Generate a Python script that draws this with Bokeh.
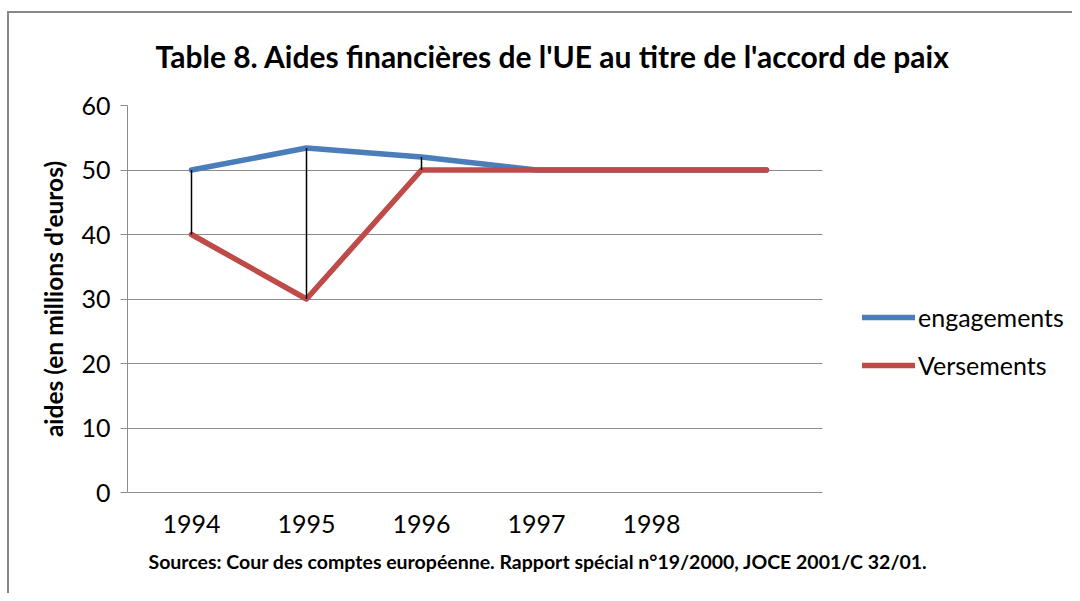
from bokeh.plotting import figure
from bokeh.models import Range1d, Legend, LegendItem, FixedTicker, Title
from bokeh.embed import file_html
from bokeh.resources import INLINE

years = ["1994", "1995", "1996", "1997", "1998", ""]
engagements = [50, 53.4, 52, 50, 50, 50]
versements = [40, 30, 50, 50, 50, 50]
xs = list(range(len(years)))

FONT = "Lato"
BLUE = "#4A7EBB"
RED = "#BE4B48"
GRID = "#8C8C8C"

X0, X1 = -0.5565, 5.487  # plot-area extent along x
W, H = 1072, 593
p = figure(width=W, height=H, output_backend="svg", toolbar_location=None,
           x_range=Range1d(X0, (W - 191) / 115.0), y_range=Range1d(0, 60),
           min_border_left=127, min_border_right=0, min_border_top=105, min_border_bottom=H - 492)
# chart-box border (top and left edges), drawn behind a transparent canvas border
p.styles = {"background": "linear-gradient(#888888, #888888) 7px 11px / 2px 100% no-repeat, "
                          "linear-gradient(#888888, #888888) 7px 11px / 100% 2px no-repeat, white"}
p.outline_line_color = None
p.background_fill_color = "white"
p.border_fill_alpha = 0

p.xgrid.grid_line_color = None
p.ygrid.grid_line_color = GRID
p.ygrid.grid_line_width = 1
p.ygrid.cross_bounds = (X0, X1)

p.yaxis.ticker = FixedTicker(ticks=[0, 10, 20, 30, 40, 50, 60])
p.yaxis.axis_line_color = GRID
p.yaxis.major_tick_line_color = GRID
p.yaxis.major_tick_out = 7
p.yaxis.major_tick_in = 0
p.yaxis.minor_tick_line_color = None
p.yaxis.major_label_text_font = FONT
p.yaxis.major_label_text_font_size = "25px"
p.yaxis.major_label_text_color = "black"
p.yaxis.major_label_standoff = 10
p.yaxis.axis_label = "aides (en millions d'euros)"
p.yaxis.axis_label_text_font = FONT
p.yaxis.axis_label_text_font_style = "bold"
p.yaxis.axis_label_text_font_size = "24.5px"
p.yaxis.axis_label_text_color = "black"
p.yaxis.axis_label_standoff = 10

p.xaxis.ticker = FixedTicker(ticks=xs[:5])
p.xaxis.major_label_overrides = {i: y for i, y in enumerate(years)}
p.xaxis.bounds = (X0, X1)
p.xaxis.axis_line_color = GRID
p.xaxis.major_tick_line_color = None
p.xaxis.minor_tick_line_color = None
p.xaxis.major_label_text_font = FONT
p.xaxis.major_label_text_font_size = "25px"
p.xaxis.major_label_text_color = "black"
p.xaxis.major_label_standoff = 16

r1 = p.line(xs, engagements, line_color=BLUE, line_width=5.5, line_join="round", line_cap="round")
r2 = p.line(xs, versements, line_color=RED, line_width=5.5, line_join="round", line_cap="round")
p.segment(x0=xs, y0=versements, x1=xs, y1=engagements, line_color="black", line_width=1.5)

legend = Legend(items=[LegendItem(label="engagements", renderers=[r1]),
                       LegendItem(label="Versements", renderers=[r2])],
                location=(862 - 127, 112), orientation="vertical",
                glyph_width=53, glyph_height=20, spacing=18, label_standoff=3,
                padding=0, margin=0, border_line_color=None, background_fill_alpha=0,
                label_text_font=FONT, label_text_font_size="25px", label_text_color="black")
p.add_layout(legend, "center")

p.add_layout(Title(text="Table 8. Aides financières de l'UE au titre de l'accord de paix",
                   align="left", offset=28, standoff=64, text_font=FONT,
                   text_font_style="bold", text_font_size="30px", text_color="black"), "above")
p.add_layout(Title(text="Sources: Cour des comptes européenne. Rapport spécial n°19/2000, JOCE 2001/C 32/01.",
                   align="left", offset=21, standoff=24, text_font=FONT,
                   text_font_style="bold", text_font_size="19.5px", text_color="black"), "below")

open("out.html", "w").write(file_html(p, INLINE))
